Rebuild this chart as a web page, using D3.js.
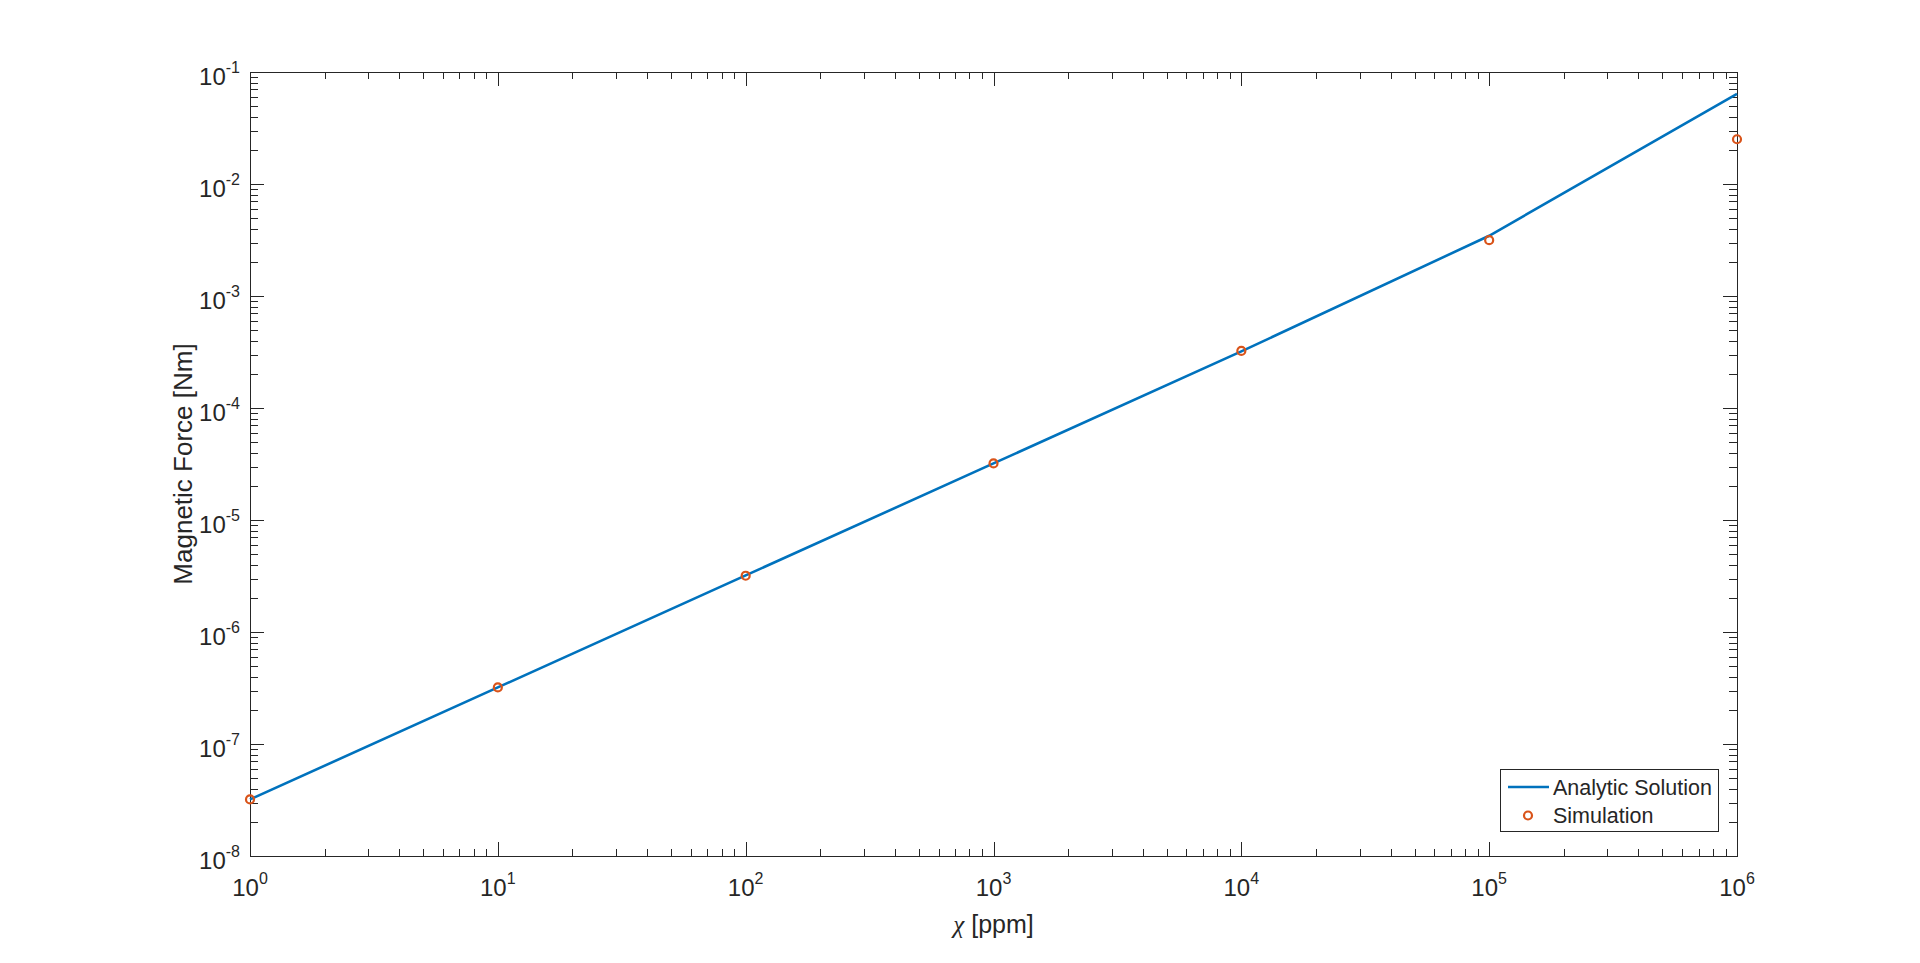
<!DOCTYPE html>
<html>
<head>
<meta charset="utf-8">
<script src="https://cdn.jsdelivr.net/npm/d3@7"></script>
<style>
  body { margin: 0; background: #fff; }
  text { font-family: "Liberation Sans", Arial, sans-serif; fill: #262626; }
</style>
</head>
<body>
<div id="chart"></div>
<script>
// susceptibility values [ppm]
const chi = [1, 10, 100, 1000, 1e4, 1e5, 1e6];
// analytic solution [Nm]
const analytic = [3.2e-8, 3.2e-7, 3.2e-6, 3.2e-5, 3.2e-4, 3.45e-3, 6.37e-2];
// simulation results [Nm]
const simulation = [3.2e-8, 3.2e-7, 3.18e-6, 3.2e-5, 3.23e-4, 3.15e-3, 2.51e-2];

const xTickExp = [0, 1, 2, 3, 4, 5, 6];
const yTickExp = [-8, -7, -6, -5, -4, -3, -2, -1];
const legendLabels = ["Analytic Solution", "Simulation"];

const W = 1920, H = 963;
const margin = { top: 72, right: 183, bottom: 107, left: 250 },
    width = W - margin.left - margin.right,
    height = H - margin.top - margin.bottom;

const axisColor = "#262626";
const blue = "#0072BD", orange = "#D95319";

const svg = d3.select("#chart")
    .append("svg")
    .attr("width", W)
    .attr("height", H);

const g = svg.append("g")
    .attr("transform", `translate(${margin.left},${margin.top})`);

const x = d3.scaleLog().domain([1, 1e6]).range([0, width]);
const y = d3.scaleLog().domain([1e-8, 1e-1]).range([height, 0]);

// minor tick values 2..9 in every decade
function minorTicks(lo, hi) {
    const out = [];
    for (let e = lo; e < hi; e++) {
        for (let m = 2; m <= 9; m++) out.push(m * Math.pow(10, e));
    }
    return out;
}
const xMinor = minorTicks(0, 6);
const yMinor = minorTicks(-8, -1);
const xMajor = xTickExp.map(e => Math.pow(10, e));
const yMajor = yTickExp.map(e => Math.pow(10, e));

const majorLen = 14, minorLen = 7;
const ticks = g.append("g").attr("stroke", axisColor).attr("stroke-width", 1);

// x ticks, bottom and top, pointing inwards
[[xMajor, majorLen], [xMinor, minorLen]].forEach(([vals, len]) => {
    ticks.selectAll(null).data(vals).join("line")
        .attr("x1", d => Math.round(x(d)) + 0.5).attr("x2", d => Math.round(x(d)) + 0.5)
        .attr("y1", height).attr("y2", height - len);
    ticks.selectAll(null).data(vals).join("line")
        .attr("x1", d => Math.round(x(d)) + 0.5).attr("x2", d => Math.round(x(d)) + 0.5)
        .attr("y1", 0).attr("y2", len);
});
// y ticks, left and right
[[yMajor, majorLen], [yMinor, minorLen + 1]].forEach(([vals, len]) => {
    ticks.selectAll(null).data(vals).join("line")
        .attr("y1", d => Math.round(y(d)) + 0.5).attr("y2", d => Math.round(y(d)) + 0.5)
        .attr("x1", 0).attr("x2", len);
    ticks.selectAll(null).data(vals).join("line")
        .attr("y1", d => Math.round(y(d)) + 0.5).attr("y2", d => Math.round(y(d)) + 0.5)
        .attr("x1", width).attr("x2", width - len);
});

// box
g.append("rect")
    .attr("x", 0.5).attr("y", 0.5)
    .attr("width", width).attr("height", height)
    .attr("fill", "none").attr("stroke", axisColor).attr("stroke-width", 1);

// tick labels
const xl = g.append("g").attr("text-anchor", "middle");
xTickExp.forEach(e => {
    const t = xl.append("text")
        .attr("x", x(Math.pow(10, e)))
        .attr("y", height + 40)
        .style("font-size", "24px");
    t.append("tspan").text("10");
    t.append("tspan").attr("dy", -12).style("font-size", "16px").text(e);
});

const yl = g.append("g").attr("text-anchor", "end");
yTickExp.forEach(e => {
    const t = yl.append("text")
        .attr("x", -10)
        .attr("y", y(Math.pow(10, e)) + 13)
        .style("font-size", "24px");
    t.append("tspan").text("10");
    t.append("tspan").attr("dy", -12).style("font-size", "16px").text(e);
});

// axis labels
const xt = g.append("text")
    .attr("x", width / 2)
    .attr("y", height + 77)
    .attr("text-anchor", "middle")
    .style("font-size", "25px");
xt.append("tspan").style("font-family", "'Liberation Serif', serif").style("font-style", "italic").text("χ");
xt.append("tspan").text(" [ppm]");

g.append("text")
    .attr("transform", `translate(${192 - margin.left},${height / 2}) rotate(-90)`)
    .attr("text-anchor", "middle")
    .style("font-size", "26px")
    .text("Magnetic Force [Nm]");

// analytic line
const line = d3.line()
    .x((d, i) => x(chi[i]))
    .y(d => y(d));

g.append("path")
    .datum(analytic)
    .attr("d", line)
    .attr("fill", "none")
    .attr("stroke", blue)
    .attr("stroke-width", 2.6);

// simulation markers
g.selectAll("circle.sim")
    .data(simulation)
    .join("circle")
    .attr("class", "sim")
    .attr("cx", (d, i) => x(chi[i]))
    .attr("cy", d => y(d))
    .attr("r", 4)
    .attr("fill", "none")
    .attr("stroke", orange)
    .attr("stroke-width", 2.2);

// legend
const lg = svg.append("g").attr("transform", "translate(1500,769)");
lg.append("rect")
    .attr("x", 0.5).attr("y", 0.5)
    .attr("width", 218).attr("height", 62)
    .attr("fill", "#fff").attr("stroke", axisColor).attr("stroke-width", 1);
lg.append("line")
    .attr("x1", 8).attr("x2", 49)
    .attr("y1", 18).attr("y2", 18)
    .attr("stroke", blue).attr("stroke-width", 2.6);
lg.append("circle")
    .attr("cx", 28).attr("cy", 46.5).attr("r", 4)
    .attr("fill", "none").attr("stroke", orange).attr("stroke-width", 2.2);
lg.selectAll("text.leg")
    .data(legendLabels)
    .join("text")
    .attr("class", "leg")
    .attr("x", 53)
    .attr("y", (d, i) => 26 + i * 28)
    .style("font-size", "21.5px")
    .text(d => d);
</script>
</body>
</html>
